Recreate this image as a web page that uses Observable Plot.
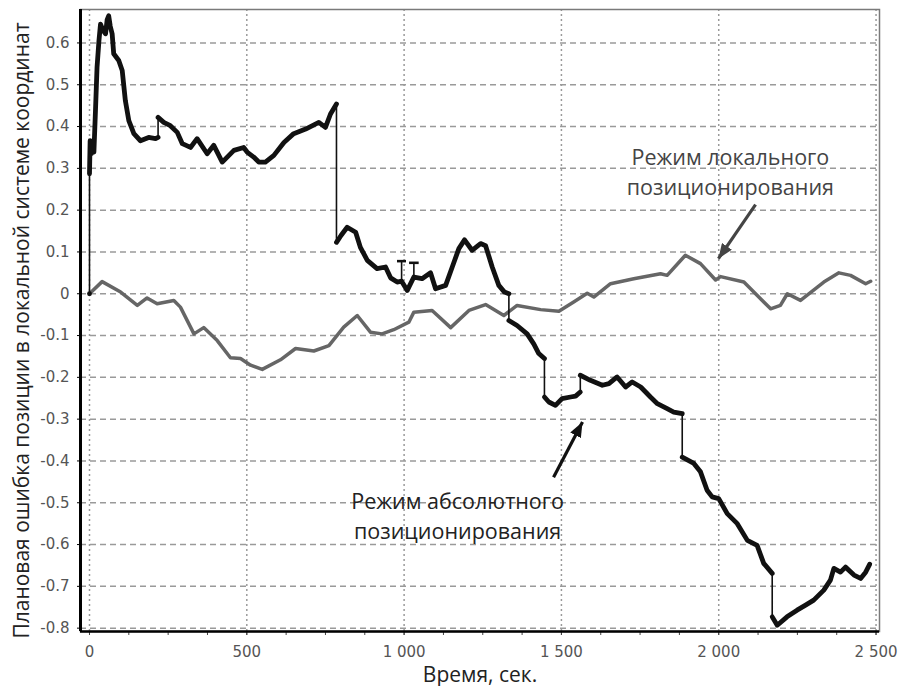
<!DOCTYPE html>
<html><head><meta charset="utf-8">
<script src="https://cdn.jsdelivr.net/npm/d3@7"></script>
<script src="https://cdn.jsdelivr.net/npm/@observablehq/plot@0.6"></script>
<style>
html,body{margin:0;padding:0;background:#fff;}
#chart svg{display:block;}
</style></head><body><div id="chart"></div>
<script>
// ---- data ----
const xTicks = [0, 500, 1000, 1500, 2000, 2500];
const xMinorTicks = [0,125,250,375,500,625,750,875,1000,1125,1250,1375,1500,1625,1750,1875,2000,2125,2250,2375,2500];
const yTicks = [-0.8,-0.7,-0.6,-0.5,-0.4,-0.3,-0.2,-0.1,0,0.1,0.2,0.3,0.4,0.5,0.6];

// absolute positioning mode (black)
const absX = [0,0,2,6,10,14,19,24,30,35,43,51,56,61,66,72,77,93,104,114,125,141,162,188,210,218,218,236,257,279,295,321,342,374,395,422,459,490,501,522,538,559,586,618,649,687,729,750,766,785,785,800,819,846,861,883,914,941,957,978,992,1010,1031,1057,1084,1100,1132,1153,1174,1192,1216,1243,1259,1280,1301,1319,1333,1333,1359,1391,1412,1428,1446,1446,1460,1481,1502,1529,1545,1560,1560,1592,1630,1651,1677,1704,1725,1752,1783,1805,1836,1857,1884,1884,1921,1942,1963,1979,2000,2027,2059,2091,2122,2143,2170,2170,2186,2217,2249,2276,2302,2334,2355,2366,2387,2403,2430,2451,2467,2480];
const absY = [0,0.287,0.366,0.335,0.365,0.339,0.438,0.542,0.605,0.645,0.63,0.622,0.655,0.665,0.64,0.622,0.574,0.558,0.534,0.462,0.414,0.383,0.366,0.374,0.371,0.374,0.422,0.410,0.402,0.386,0.359,0.350,0.371,0.335,0.355,0.315,0.343,0.350,0.339,0.327,0.315,0.315,0.331,0.362,0.383,0.394,0.410,0.398,0.430,0.454,0.123,0.14,0.159,0.147,0.111,0.080,0.060,0.064,0.038,0.028,0.03,0.008,0.04,0.036,0.050,0.012,0.020,0.064,0.108,0.129,0.104,0.120,0.115,0.064,0.020,0.004,0.000,-0.064,-0.076,-0.096,-0.120,-0.143,-0.155,-0.247,-0.259,-0.267,-0.251,-0.247,-0.245,-0.235,-0.195,-0.207,-0.219,-0.215,-0.199,-0.223,-0.211,-0.223,-0.247,-0.263,-0.275,-0.283,-0.287,-0.391,-0.406,-0.426,-0.470,-0.486,-0.490,-0.526,-0.550,-0.590,-0.602,-0.645,-0.669,-0.773,-0.793,-0.773,-0.757,-0.745,-0.733,-0.709,-0.685,-0.657,-0.666,-0.654,-0.673,-0.681,-0.666,-0.647];

// local positioning mode (gray)
const locX = [0,40,99,152,183,215,268,289,332,363,406,448,480,512,549,607,655,713,761,808,851,893,930,967,1015,1031,1089,1148,1206,1259,1317,1359,1434,1492,1539,1582,1603,1656,1730,1815,1836,1894,1942,1990,2006,2080,2165,2196,2218,2260,2334,2382,2419,2467,2483];
const locY = [0,0.029,0.004,-0.028,-0.010,-0.024,-0.016,-0.032,-0.096,-0.081,-0.112,-0.153,-0.155,-0.171,-0.181,-0.158,-0.131,-0.137,-0.124,-0.080,-0.052,-0.092,-0.096,-0.086,-0.068,-0.044,-0.040,-0.081,-0.040,-0.026,-0.052,-0.028,-0.038,-0.042,-0.020,0.001,-0.008,0.024,0.036,0.048,0.044,0.092,0.072,0.033,0.041,0.028,-0.036,-0.028,0.000,-0.016,0.028,0.050,0.044,0.024,0.030];

// outlier spikes on the absolute curve
const spikeX = [992, 1031];
const spikeLow = [0.03, 0.04];
const spikeHigh = [0.078, 0.074];

// annotations (data units)
const noteText = ["Режим локального\nпозиционирования", "Режим абсолютного\nпозиционирования"];
const noteX = [2037, 1170];
const noteY = [0.295, -0.528];
const noteColor = ["#444444", "#222222"];
const arrowX1 = [2117, 1475], arrowY1 = [0.213, -0.439];
const arrowX2 = [1999, 1567], arrowY2 = [0.084, -0.307];
const arrowColor = ["#444444", "#111111"];

const xLabel = "Время, сек.";
const yLabel = "Плановая ошибка позиции в локальной системе координат";

// ---- build tables ----
let seg = 0;
const absData = absX.map((x, i) => {
  if (i > 0 && x === absX[i - 1]) seg++;
  return {x, y: absY[i], seg};
});
const locData = locX.map((x, i) => ({x, y: locY[i]}));
const spikes = spikeX.map((x, i) => ({x, y1: spikeLow[i], y2: spikeHigh[i]}));
const notes = noteText.map((t, i) => ({t, x: noteX[i], y: noteY[i], c: noteColor[i]}));
const arrows = arrowX1.map((x1, i) => ({x1, y1: arrowY1[i], x2: arrowX2[i], y2: arrowY2[i], c: arrowColor[i]}));

const xDomain = [-28.6, 2511];
const yDomain = [-0.808, 0.68];

const fmtY = d => Math.abs(d) < 1e-9 ? "0" : d.toFixed(1);
const locale = d3.formatLocale({decimal: ".", thousands: " ", grouping: [3], currency: ["", ""]});
const fmtX = locale.format(",");

function headMarker(color) {
  return d3.create("svg:marker")
    .attr("viewBox", "-15 -6 15 12")
    .attr("markerWidth", 15).attr("markerHeight", 12)
    .attr("markerUnits", "userSpaceOnUse")
    .attr("orient", "auto")
    .attr("refX", 0).attr("refY", 0)
    .call(m => m.append("path").attr("d", "M-15,-6L0,0L-15,6Z").attr("fill", color))
    .node();
}

const chart = Plot.plot({
  width: 902, height: 686,
  marginLeft: 80, marginRight: 23, marginTop: 9, marginBottom: 55,
  x: {domain: xDomain},
  y: {domain: yDomain},
  style: {fontFamily: "DejaVu Sans", fontSize: "15px", background: "#fff", overflow: "visible"},
  marks: [
    Plot.gridY(yTicks, {stroke: "#9a9a9a", strokeOpacity: 1, strokeWidth: 1.5, strokeDasharray: "6,4"}),
    Plot.gridX(xTicks, {stroke: "#9a9a9a", strokeOpacity: 1, strokeWidth: 1.5, strokeDasharray: "2,3"}),
    Plot.frame({stroke: "#7a7a7a", strokeWidth: 1.5}),
    Plot.axisY(yTicks, {tickSize: 3, tickPadding: 8, tickFormat: fmtY, fill: "#555", stroke: "#000", label: null, fontSize: 15, style: {letterSpacing: "2.5px"}}),
    Plot.axisX(xMinorTicks, {tickSize: 4, tickFormat: () => "", stroke: "#444", label: null}),
    Plot.axisX(xTicks, {tickSize: 4, tickPadding: 11, tickFormat: fmtX, fill: "#555", stroke: "#444", label: null, fontSize: 15, style: {letterSpacing: "2.5px"}}),
    Plot.line(locData, {x: "x", y: "y", stroke: "#666", strokeWidth: 3.5, strokeLinejoin: "round"}),
    Plot.line(absData, {x: "x", y: "y", stroke: "#111", strokeWidth: 1.6}),
    Plot.line(absData, {x: "x", y: "y", z: "seg", stroke: "#111", strokeWidth: 4.8, strokeLinejoin: "round", strokeLinecap: "round"}),
    Plot.link(spikes, {x1: "x", x2: "x", y1: "y1", y2: "y2", stroke: "#111", strokeWidth: 1.6, markerEnd: "tick"}),
    Plot.ruleX([xDomain[0]], {stroke: "#000", strokeWidth: 3}),
    Plot.ruleY([yDomain[0]], {stroke: "#000", strokeWidth: 2.5}),
    Plot.link(arrows, {x1: "x1", y1: "y1", x2: "x2", y2: "y2", stroke: "c", strokeWidth: 3.2, markerEnd: headMarker}),
    Plot.text(notes, {x: "x", y: "y", text: "t", fill: "c", fontFamily: "Open Sans", fontSize: 21.5, lineHeight: 1.4, textAnchor: "middle"}),
    Plot.text([xLabel], {frameAnchor: "bottom", dy: 50, fontFamily: "Open Sans", fontSize: 21, fill: "#222", textAnchor: "middle"}),
    Plot.text([yLabel], {frameAnchor: "left", dx: -58, dy: 10, rotate: -90, fontFamily: "Open Sans", fontSize: 21, fill: "#222", textAnchor: "middle"})
  ]
});
document.getElementById("chart").appendChild(chart);
</script></body></html>
